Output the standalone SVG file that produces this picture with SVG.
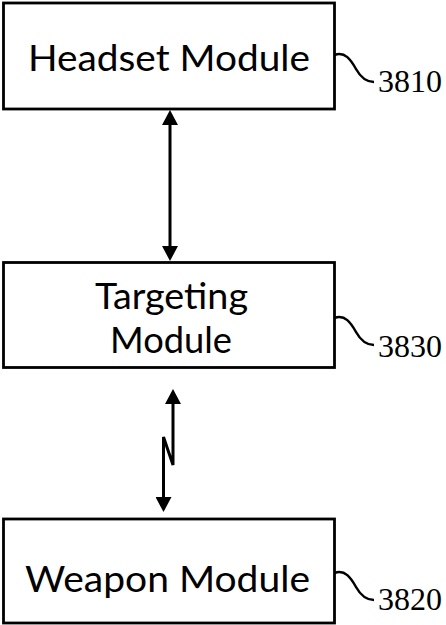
<svg xmlns="http://www.w3.org/2000/svg" width="446" height="625" viewBox="0 0 446 625">
  <defs>
    <marker id="arrow" viewBox="0 0 15 16" markerWidth="15" markerHeight="16" refX="0" refY="8" markerUnits="userSpaceOnUse" orient="auto-start-reverse">
      <path d="M0,0 L15,8 L0,16 Z" fill="#000"/>
    </marker>
    <style>
      .box { fill: #fff; stroke: #000; stroke-width: 2.8; }
      .label { font-family: Lato, "Open Sans", "Liberation Sans", sans-serif; font-size: 37px; fill: #000; text-anchor: middle; }
      .ref { font-family: "Liberation Serif", "DejaVu Serif", serif; font-size: 31px; fill: #000; }
      .leader { fill: none; stroke: #000; stroke-width: 2.5; }
      .conn { fill: none; stroke: #000; stroke-width: 3; stroke-linejoin: miter; marker-start: url(#arrow); marker-end: url(#arrow); }
    </style>
  </defs>
  <rect width="446" height="625" fill="#fff"/>

  <g id="headset-module">
    <rect class="box" x="3.5" y="3" width="331" height="106"/>
    <text class="label" x="169" y="71" textLength="282" lengthAdjust="spacingAndGlyphs">Headset Module</text>
    <path class="leader" d="M334.5,55 C345,51 351,60 356,69 C361,78 366,82 374,82"/>
    <text class="ref" x="378" y="92" textLength="64" lengthAdjust="spacingAndGlyphs">3810</text>
  </g>

  <g id="targeting-module">
    <rect class="box" x="3.5" y="262.5" width="331" height="105"/>
    <text class="label" x="171.5" y="309" font-size="36" textLength="153" lengthAdjust="spacingAndGlyphs">Targeting</text>
    <text class="label" x="171" y="353" font-size="36" textLength="122" lengthAdjust="spacingAndGlyphs">Module</text>
    <path class="leader" d="M334.5,318 C345,314 351,323 356,332 C361,341 366,345 374,345"/>
    <text class="ref" x="378" y="357" textLength="64" lengthAdjust="spacingAndGlyphs">3830</text>
  </g>

  <g id="weapon-module">
    <rect class="box" x="3.5" y="519" width="331" height="104"/>
    <text class="label" x="167.5" y="592" textLength="285" lengthAdjust="spacingAndGlyphs">Weapon Module</text>
    <path class="leader" d="M334.5,573 C345,569 351,578 356,587 C361,596 366,600 374,600"/>
    <text class="ref" x="378" y="610" textLength="64" lengthAdjust="spacingAndGlyphs">3820</text>
  </g>

  <g id="connectors">
    <path class="conn" d="M170,125 L170,246"/>
    <path class="conn" d="M173,404 L173,465 L163.5,437 L163.5,497"/>
  </g>
</svg>
